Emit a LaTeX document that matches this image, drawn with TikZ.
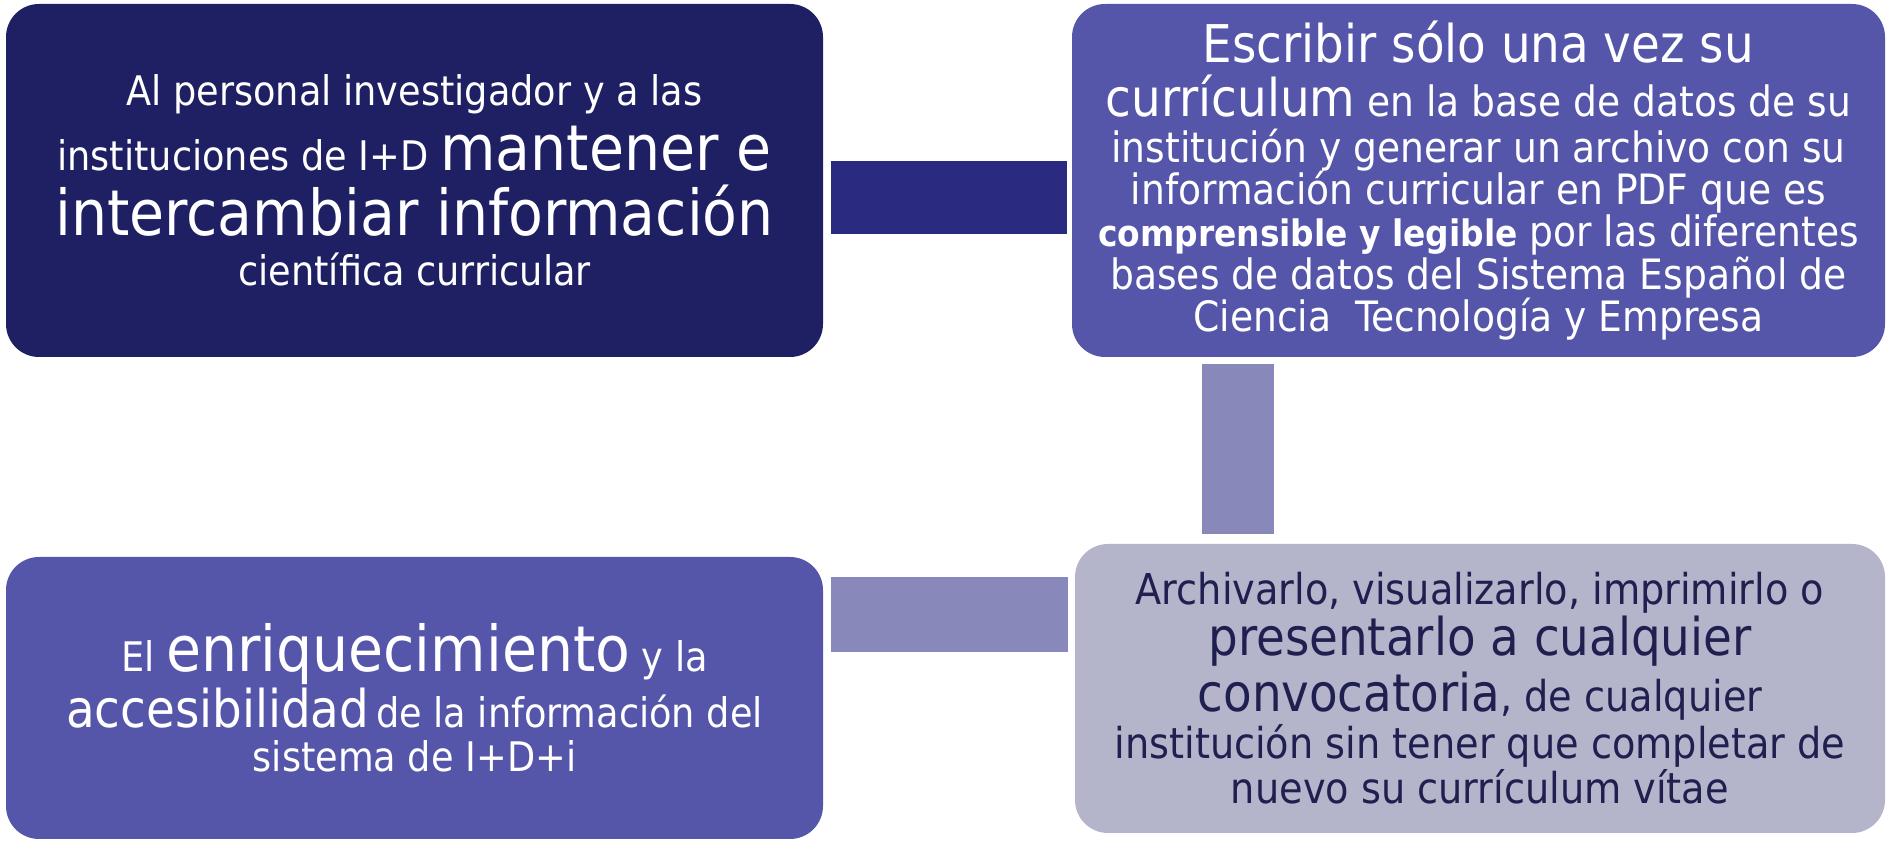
\documentclass[tikz,border=0pt]{standalone}
\usepackage{fontspec}
\setmainfont{DejaVu Sans Condensed}
\usetikzlibrary{positioning}

\definecolor{navy}{RGB}{31,31,99}
\definecolor{navylink}{RGB}{42,42,128}
\definecolor{violet}{RGB}{85,85,170}
\definecolor{lilaclink}{RGB}{136,136,187}
\definecolor{greylilac}{RGB}{180,180,203}
\definecolor{inknavy}{RGB}{31,31,80}

\newcommand{\bigtxt}[1]{{\fontsize{18}{20}\selectfont #1}}
\newcommand{\midtxt}[1]{{\fontsize{14.8}{16}\selectfont #1}}
\newcommand{\boldtxt}[1]{{\fontsize{10.4}{12}\selectfont\bfseries #1}}
\newcommand{\cardfont}[2]{\fontsize{#1}{#2}\selectfont\lineskiplimit=-100pt\lineskip=0pt}

\begin{document}
\begin{tikzpicture}[
    card/.style = {rectangle,
                   rounded corners = .33cm,
                   align = center,
                   inner sep = 0pt},
    band/.style = {line width = .73cm}
]
    \useasboundingbox (0,0) rectangle (18.87,8.43);

    \node[card,
          fill = navy,
          text = white,
          font = \cardfont{11.6}{14.2},
          minimum width = 8.17cm,
          minimum height = 3.53cm] (Keep) at (4.145,6.625)
          {Al personal investigador y a las\\[4.3pt]
           instituciones de I+D \bigtxt{mantener e}\\[4.3pt]
           \bigtxt{intercambiar información}\\
           científica curricular};

    \node[card,
          fill = violet,
          text = white,
          font = \cardfont{11.9}{12},
          minimum width = 8.13cm,
          minimum height = 3.53cm] (Write) at (14.785,6.625)
          {\midtxt{Escribir sólo una vez su}\\[3.2pt]
           \midtxt{currículum} en la base de datos de su\\[1.2pt]
           institución y generar un archivo con su\\
           información curricular en PDF que es\\
           \boldtxt{comprensible y legible} por las diferentes\\
           bases de datos del Sistema Español de\\
           Ciencia\ \ Tecnología y Empresa};

    \node[card,
          fill = violet,
          text = white,
          font = \cardfont{11.6}{12.5},
          minimum width = 8.17cm,
          minimum height = 2.82cm] (Enrich) at (4.145,1.45)
          {El \bigtxt{enriquecimiento} y la\\[3.4pt]
           \midtxt{accesibilidad}\,de la información del\\
           sistema de I+D+i};

    \node[card,
          fill = greylilac,
          text = inknavy,
          font = \cardfont{12.1}{13},
          minimum width = 8.10cm,
          minimum height = 2.89cm] (Archive) at (14.80,1.545)
          {Archivarlo, visualizarlo, imprimirlo o\\[1.5pt]
           \midtxt{presentarlo a cualquier}\\[2.7pt]
           \midtxt{convocatoria}, de cualquier\\[0.4pt]
           institución sin tener que completar de\\
           nuevo su currículum vítae};

    % bands between the cards
    \draw[band, navylink, shorten <= .07cm, shorten >= .04cm]
        ([yshift=-.17cm]Keep.east) -- ([yshift=-.17cm]Keep.east -| Write.west);
    \draw[band, lilaclink, line width = .72cm, shorten <= .06cm, shorten >= .09cm]
        ([xshift=-2.405cm]Write.south) -- ([xshift=-2.405cm]Write.south |- Archive.north);
    \draw[band, lilaclink, line width = .75cm, shorten <= .07cm, shorten >= .06cm]
        ([yshift=-.585cm]Enrich.north east) -- ([yshift=-.585cm]Enrich.north east -| Archive.west);

\end{tikzpicture}
\end{document}
